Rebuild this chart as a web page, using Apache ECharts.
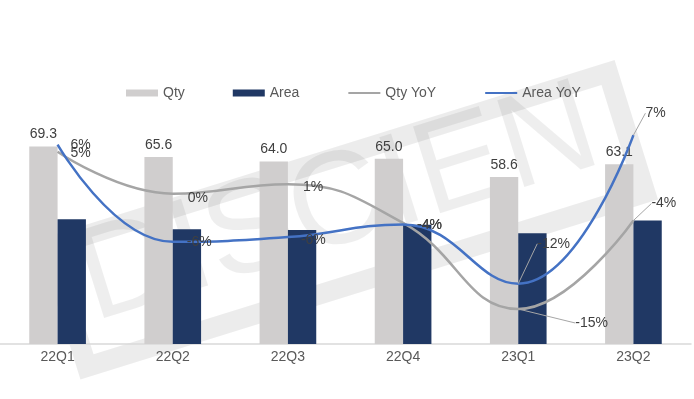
<!DOCTYPE html>
<html>
<head>
<meta charset="utf-8">
<script src="https://cdn.jsdelivr.net/npm/echarts@6/dist/echarts.min.js"></script>
<style>
html,body{margin:0;padding:0;background:#fff;}
#chart{width:694px;height:399px;}
</style>
</head>
<body>
<div id="chart"></div>
<script>
const categories = ['22Q1','22Q2','22Q3','22Q4','23Q1','23Q2'];
const qty = [69.3, 65.6, 64.0, 65.0, 58.6, 63.1];
const area = [43.8, 40.3, 40.0, 41.8, 38.9, 43.3];
const qtyYoY = [4.9, -0.4, 0.8, -4.1, -15.0, -3.8];
const areaYoY = [5.8, -6.5, -5.9, -4.3, -11.8, 7.0];

// label nudges (dx, dy) per point and whether a leader line is drawn
const qtyYoYLabel = [[0,1,false],[2,4,false],[2,2.5,false],[1,2,false],[44,14,true],[5,-17,true]];
const areaYoYLabel = [[0,0,false],[1,0.5,false],[0,2.7,false],[1,1,false],[6,-40,true],[-1,-22,true]];

const FONT = '"Liberation Sans", Arial, sans-serif';
const chart = echarts.init(document.getElementById('chart'), null, {renderer:'canvas'});

function pct(p){ return Math.round(p.value) + '%'; }
function lineData(vals, cfg){
  return vals.map((v,i)=>({value:v, labelLine:{show:cfg[i][2]}}));
}

// decorative watermark: rotated frame with letters
const watermark = {
  type:'group', x:37, y:240, rotation:0.302, z:100, silent:true,
  children:[
    {type:'rect', silent:true, shape:{x:10, y:10, width:585, height:126},
      style:{fill:'none', stroke:'rgba(0,0,0,0.075)', lineWidth:20}},
    {type:'text', silent:true, x:30, y:124,
      style:{text:'DISCIEN', fontFamily:FONT, fontSize:132, fontWeight:'normal',
        fill:'rgba(0,0,0,0.065)', verticalAlign:'bottom'}}
  ]
};

chart.setOption({
  animation:false,
  backgroundColor:'#ffffff',
  legend:{
    left:121, top:81,
    itemWidth:32, itemHeight:7, itemGap:48,
    textStyle:{fontFamily:FONT, fontSize:14, color:'#595959'},
    data:[
      {name:'Qty', icon:'rect'},
      {name:'Area', icon:'rect'},
      {name:'Qty YoY', itemStyle:{opacity:0}},
      {name:'Area YoY', itemStyle:{opacity:0}}
    ]
  },
  grid:{left:-7.5, right:3, top:116, bottom:55, containLabel:false},
  xAxis:{
    type:'category', data:categories, boundaryGap:true,
    axisLine:{show:true, lineStyle:{color:'#d9d9d9', width:1.5}},
    axisTick:{show:false},
    axisLabel:{fontFamily:FONT, fontSize:14, color:'#595959', margin:6}
  },
  yAxis:[
    {type:'value', min:0, max:80, show:false, splitLine:{show:false}},
    {type:'value', min:-19.43, max:9.43, show:false, splitLine:{show:false}}
  ],
  series:[
    {
      name:'Qty', type:'bar', data:qty, barWidth:'24.6%', barGap:'0%',
      itemStyle:{color:'#d0cece'},
      label:{show:true, position:'top', distance:5, fontFamily:FONT, fontSize:14, color:'#404040',
        formatter:p=>p.value.toFixed(1)}
    },
    {
      name:'Area', type:'bar', data:area, barWidth:'24.6%', barGap:'0%',
      itemStyle:{color:'#203864'}
    },
    {
      name:'Qty YoY', type:'line', yAxisIndex:1, data:lineData(qtyYoY, qtyYoYLabel),
      smooth:0.45, symbol:'circle', symbolSize:0, showSymbol:true, z:5,
      lineStyle:{color:'#a5a5a5', width:2.5},
      itemStyle:{color:'#a5a5a5'},
      label:{show:true, position:'right', distance:13, fontFamily:FONT, fontSize:14, color:'#404040', formatter:pct},
      labelLine:{show:false, lineStyle:{color:'#a6a6a6', width:1}},
      labelLayout:p=>({dx:qtyYoYLabel[p.dataIndex][0], dy:qtyYoYLabel[p.dataIndex][1]})
    },
    {
      name:'Area YoY', type:'line', yAxisIndex:1, data:lineData(areaYoY, areaYoYLabel),
      smooth:0.45, symbol:'circle', symbolSize:0, showSymbol:true, z:6,
      lineStyle:{color:'#4472c4', width:2.5},
      itemStyle:{color:'#4472c4'},
      label:{show:true, position:'right', distance:13, fontFamily:FONT, fontSize:14, color:'#404040', formatter:pct},
      labelLine:{show:false, lineStyle:{color:'#a6a6a6', width:1}},
      labelLayout:p=>({dx:areaYoYLabel[p.dataIndex][0], dy:areaYoYLabel[p.dataIndex][1]})
    }
  ],
  graphic:[watermark]
});
</script>
</body>
</html>
